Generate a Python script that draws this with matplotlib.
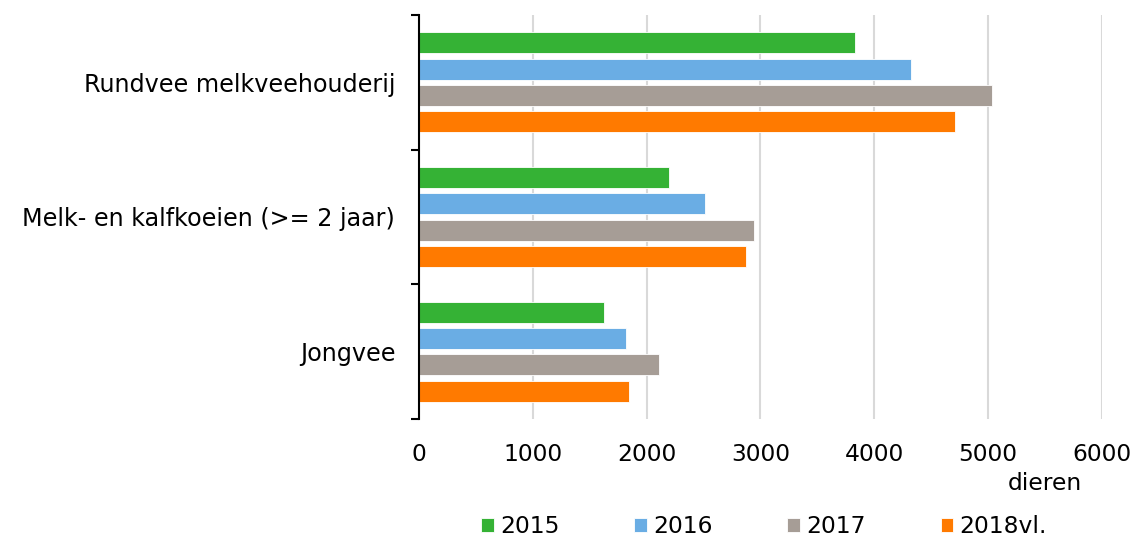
import matplotlib.pyplot as plt
import numpy as np

# data
categories = ['Rundvee melkveehouderij', 'Melk- en kalfkoeien (>= 2 jaar)', 'Jongvee']
series = ['2015', '2016', '2017', '2018vl.']
values_2015 = [3830, 2200, 1630]
values_2016 = [4320, 2510, 1815]
values_2017 = [5035, 2940, 2110]
values_2018 = [4710, 2870, 1845]
colors = ['#35B235', '#6AADE4', '#A69D96', '#FF7A00']
xticks = [0, 1000, 2000, 3000, 4000, 5000, 6000]

all_values = [values_2015, values_2016, values_2017, values_2018]

fig = plt.figure(figsize=(11.36, 5.41), dpi=100)
ax = fig.add_axes([0.3688, 0.2255, 0.6012, 0.7468])

y = np.arange(len(categories))
slot = 0.1955
height = 0.158
for i, (name, vals) in enumerate(zip(series, all_values)):
    offset = (i - 1.5) * slot
    ax.barh(y + offset, vals, height=height, color=colors[i], label=name,
            edgecolor='white', linewidth=0.6, zorder=3)

ax.set_xlim(0, 6000)
ax.set_ylim(len(categories) - 0.5, -0.5)
ax.set_xticks(xticks)
ax.set_xticklabels([str(t) for t in xticks], fontsize=16.8)
ax.tick_params(axis='x', length=0, pad=17)
ax.grid(axis='x', color='#D9D9D9', linewidth=1.5, zorder=0)

# category boundaries as major ticks, labels on minor ticks
ax.set_yticks(np.arange(len(categories) + 1) - 0.5)
ax.set_yticklabels([])
ax.set_yticks(y, minor=True)
ax.set_yticklabels(categories, minor=True, fontsize=17.2)
ax.tick_params(axis='y', which='major', length=6, width=1.5, direction='out')
ax.tick_params(axis='y', which='minor', length=0, pad=17)

for side in ['top', 'right', 'bottom']:
    ax.spines[side].set_visible(False)
ax.spines['left'].set_linewidth(1.5)
ax.spines['left'].set_zorder(4)

fig.text(0.9525, 0.1054, 'dieren', fontsize=16.8, ha='right', va='center')

leg = fig.legend(loc='center', bbox_to_anchor=(0.6725, 0.026), ncol=4,
                 frameon=False, fontsize=16.8, handlelength=0.55, handleheight=0.55,
                 handletextpad=0.27, columnspacing=3.2, borderpad=0)

fig.savefig('out.png', dpi=100)
